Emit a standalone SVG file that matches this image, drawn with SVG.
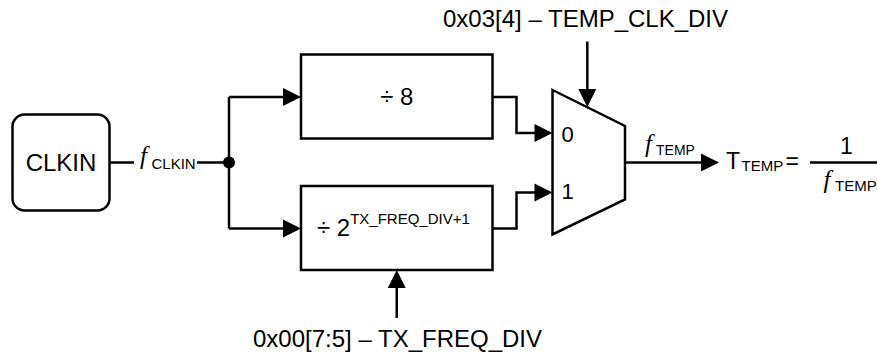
<svg xmlns="http://www.w3.org/2000/svg" width="877" height="355" viewBox="0 0 877 355">
  <style>
    .box { fill: #fff; stroke: #000; stroke-width: 2.5; }
    .wire { fill: none; stroke: #000; stroke-width: 2.5; stroke-linejoin: miter; }
    .arr { marker-end: url(#ah); }
    .t { font-family: "Liberation Sans", Arial, Helvetica, sans-serif; fill: #000; }
    .f { font-family: "Liberation Serif", "Times New Roman", serif; font-style: italic; fill: #000; font-size: 25px; }
  </style>
  <defs>
    <marker id="ah" markerUnits="userSpaceOnUse" markerWidth="18" markerHeight="18" refX="14" refY="9" orient="auto" overflow="visible">
      <path d="M0,0 L18,9 L0,18 Z" fill="#000"/>
    </marker>
  </defs>

  <g id="connectors">
    <path class="wire" d="M109.5,162.5 H134"/>
    <path class="wire" d="M197,162.5 H229"/>
    <path class="wire" d="M229,97 V228.5"/>
    <path class="wire arr" d="M229,97 H297"/>
    <path class="wire arr" d="M229,228.5 H297"/>
    <path class="wire arr" d="M492.5,97 H516.5 V133 H548.5"/>
    <path class="wire arr" d="M492.5,228.5 H516.5 V192.5 H548.5"/>
    <path class="wire arr" d="M625,162.5 H715"/>
    <path class="wire arr" d="M587.3,41.5 V103"/>
    <path class="wire arr" d="M396.75,318 V274"/>
    <circle cx="229" cy="162.5" r="6" fill="#000"/>
  </g>

  <g id="clkin">
    <rect class="box" x="12.5" y="114.5" width="97" height="96" rx="12" ry="12"/>
    <text class="t" x="61" y="170.5" font-size="24" text-anchor="middle">CLKIN</text>
  </g>

  <g id="label-fclkin">
    <text class="f" x="140" y="164">f</text>
    <text class="t" x="151.5" y="168.5" font-size="15">CLKIN</text>
  </g>

  <g id="div8">
    <rect class="box" x="301" y="54.5" width="191.5" height="84"/>
    <text class="t" x="396.75" y="104.5" font-size="24" text-anchor="middle">÷ 8</text>
  </g>

  <g id="div2">
    <rect class="box" x="301" y="186" width="191.5" height="84"/>
    <text class="t" x="317" y="236" font-size="24">÷ 2<tspan font-size="15" dy="-12.5">TX_FREQ_DIV+1</tspan></text>
  </g>

  <g id="mux">
    <path class="box" d="M552.5,90 L625,126 L625,199.5 L552.5,234.5 Z"/>
    <text class="t" x="561.5" y="141.5" font-size="22">0</text>
    <text class="t" x="561.5" y="199" font-size="22">1</text>
  </g>

  <g id="label-ftemp">
    <text class="f" x="645" y="152">f</text>
    <text class="t" x="656" y="155" font-size="14">TEMP</text>
  </g>

  <g id="ttemp">
    <text class="t" x="726" y="169" font-size="23">T</text>
    <text class="t" x="741.5" y="171" font-size="15">TEMP</text>
    <text class="t" x="785.5" y="169" font-size="23">=</text>
    <path class="wire" d="M810,162.5 H877"/>
    <text class="t" x="846.5" y="153.5" font-size="23" text-anchor="middle">1</text>
    <text class="f" x="823.5" y="188">f</text>
    <text class="t" x="835" y="190.5" font-size="15">TEMP</text>
  </g>

  <g id="sel-top">
    <text class="t" x="443" y="27" font-size="24">0x03[4] – TEMP_CLK_DIV</text>
  </g>

  <g id="sel-bottom">
    <text class="t" x="253" y="347" font-size="24">0x00[7:5] – TX_FREQ_DIV</text>
  </g>
</svg>
